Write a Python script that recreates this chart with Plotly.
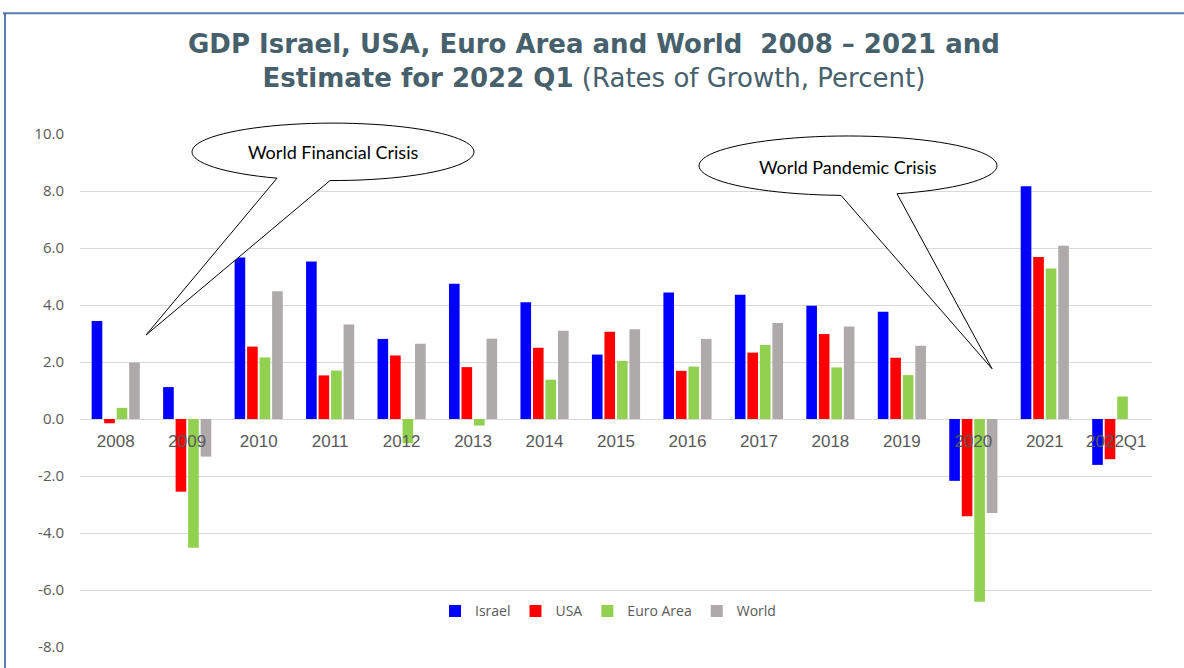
import math
import plotly.graph_objects as go

categories = ["2008", "2009", "2010", "2011", "2012", "2013", "2014", "2015",
              "2016", "2017", "2018", "2019", "2020", "2021", "2022Q1"]
israel = [3.44, 1.12, 5.67, 5.53, 2.81, 4.75, 4.10, 2.26, 4.44, 4.36, 3.97, 3.76, -2.17, 8.17, -1.61]
usa = [-0.15, -2.55, 2.54, 1.53, 2.23, 1.82, 2.50, 3.06, 1.69, 2.33, 2.98, 2.15, -3.41, 5.68, -1.41]
euro_area = [0.39, -4.52, 2.16, 1.70, -0.85, -0.23, 1.38, 2.04, 1.84, 2.60, 1.81, 1.54, -6.41, 5.28, 0.79]
world = [1.98, -1.32, 4.48, 3.32, 2.64, 2.82, 3.10, 3.15, 2.81, 3.37, 3.25, 2.57, -3.30, 6.08, None]
series_names = ["Israel", "USA", "Euro Area", "World"]
series_colors = ["#0000FF", "#FF0000", "#92D050", "#AEAAAA"]
y_ticks = [10, 8, 6, 4, 2, 0, -2, -4, -6, -8]

W, H = 1184, 668
L, R, T, B = 80, 32, 134, 16
PW, PH = W - L - R, H - T - B
YMIN, YMAX = -8, 10


def px(x):
    return (x - L) / PW


def py(y):
    return (H - B - y) / PH


fig = go.Figure()
for name, vals, col in zip(series_names, [israel, usa, euro_area, world], series_colors):
    fig.add_trace(go.Bar(x=categories, y=vals, name=name, marker_color=col,
                         marker_line_width=0))


def callout(cx, cy, rx, ry, a_start, a_end, tip):
    pts = []
    n = 80
    for i in range(n + 1):
        a = math.radians(a_start + (a_end - a_start) * i / n)
        pts.append((cx + rx * math.cos(a), cy + ry * math.sin(a)))
    pts.append(tip)
    d = "M " + " L ".join(f"{px(x):.5f},{py(y):.5f}" for x, y in pts) + " Z"
    return dict(type="path", xref="paper", yref="paper", path=d,
                fillcolor="white", line=dict(color="black", width=1), layer="above")


shapes = [
    callout(333, 152, 141, 29, 113.4, 360 + 91.2, (146, 337)),
    callout(848, 166, 149, 30, 92.7, 360 + 70.8, (992, 371)),
    dict(type="line", xref="paper", yref="paper", x0=px(3), x1=px(1190), y0=py(12), y1=py(12),
         line=dict(color="#5B7DB3", width=2)),
    dict(type="line", xref="paper", yref="paper", x0=px(5), x1=px(5), y0=py(12), y1=py(680),
         line=dict(color="#2F5597", width=1.5)),
]

annotations = [
    dict(text="<b>GDP Israel, USA, Euro Area and World  2008 – 2021 and</b><br>"
              "<b>Estimate for 2022 Q1</b> (Rates of Growth, Percent)",
         x=px(594), y=py(60), xref="paper", yref="paper", xanchor="center", yanchor="middle",
         showarrow=False, align="center",
         font=dict(family="DejaVu Sans", size=26, color="#46606C")),
    dict(text="World Financial Crisis", x=px(333), y=py(152), xref="paper", yref="paper",
         xanchor="center", yanchor="middle",
         showarrow=False, font=dict(family="Lato", size=18, color="black")),
    dict(text="World Pandemic Crisis", x=px(848), y=py(167), xref="paper", yref="paper",
         xanchor="center", yanchor="middle",
         showarrow=False, font=dict(family="Lato", size=18, color="black")),
]

fig.update_layout(
    width=W, height=H,
    margin=dict(l=L, r=R, t=T, b=B),
    paper_bgcolor="white", plot_bgcolor="white",
    barmode="group", bargap=0.3, bargroupgap=0.15,
    xaxis=dict(type="category", anchor="free", position=(0 - YMIN) / (YMAX - YMIN),
               showline=False, ticks="", showgrid=False,
               tickfont=dict(family="Liberation Sans", size=17, color="#595959"),
               ticklabelstandoff=10),
    yaxis=dict(range=[YMIN, YMAX], tickvals=y_ticks,
               ticktext=[f"{v:.1f}" for v in y_ticks],
               showgrid=True, gridcolor="#D9D9D9", gridwidth=1,
               zeroline=True, zerolinecolor="#D9D9D9", zerolinewidth=1,
               showline=False, ticks="",
               tickfont=dict(family="Open Sans", size=15, color="#595959"),
               ticklabelstandoff=15),
    legend=dict(orientation="h", x=px(608), xanchor="center", y=py(616), yanchor="middle",
                font=dict(family="Open Sans", size=14, color="#595959"),
                bgcolor="rgba(0,0,0,0)", itemwidth=30),
    shapes=shapes,
    annotations=annotations,
)

fig.write_html("out.html", config={"displayModeBar": False},
               post_script="document.body.style.margin='0';document.body.style.overflow='hidden';")
